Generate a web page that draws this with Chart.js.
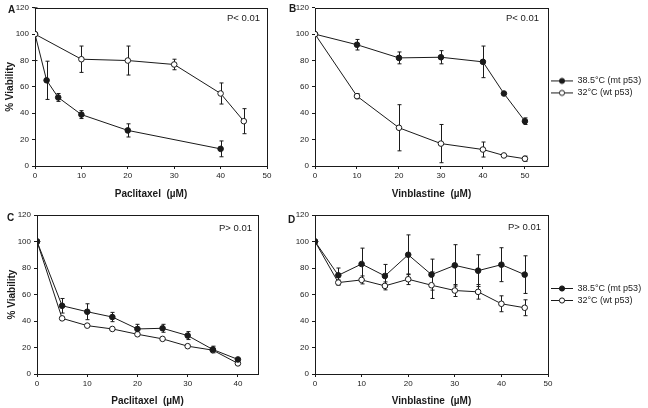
<!DOCTYPE html>
<html><head><meta charset="utf-8">
<script src="https://cdn.jsdelivr.net/npm/chart.js@4/dist/chart.umd.min.js"></script>
<style>
html,body{margin:0;padding:0;background:#fff;}
#wrap{position:relative;width:648px;height:408px;overflow:hidden;background:#fff;}
canvas{position:absolute;display:block;}
</style></head><body>
<div id="wrap">
<canvas id="cA" width="275" height="204" style="left:0;top:0"></canvas>
<canvas id="cB" width="368" height="204" style="left:280px;top:0"></canvas>
<canvas id="cC" width="275" height="204" style="left:0;top:204px"></canvas>
<canvas id="cD" width="368" height="204" style="left:280px;top:204px"></canvas>
</div>
<script>
// ---------- data ----------
const seriesNames = ['38.5°C (mt p53)', '32°C (wt p53)'];
const yTicks = [0, 20, 40, 60, 80, 100, 120];
const xTicks = [0, 10, 20, 30, 40, 50];

// Panel A: Paclitaxel
const aMtX = [0, 2.5, 5, 10, 20, 40];
const aMtY = [100, 65, 52, 39, 27, 13];
const aMtErr = [0, 14.5, 3, 3, 5, 6];
const aWtX = [0, 10, 20, 30, 40, 45];
const aWtY = [100, 81, 80, 77, 55, 34];
const aWtErr = [20, 10, 11, 4, 8, 9.5];

// Panel B: Vinblastine
const bMtX = [0, 10, 20, 30, 40, 45, 50];
const bMtY = [100, 92, 82, 82.5, 79, 55, 34];
const bMtErr = [0, 4, 4.5, 5, 12, 0, 2.5];
const bWtX = [0, 10, 20, 30, 40, 45, 50];
const bWtY = [100, 53, 29, 17, 12.5, 8, 5.5];
const bWtErr = [0, 2, 17.5, 14.5, 5.7, 0, 2];

// Panel C: Paclitaxel
const cX = [0, 5, 10, 15, 20, 25, 30, 35, 40];
const cMtY = [100, 51.5, 47, 43, 34, 34.5, 29, 18.5, 11];
const cMtErr = [0, 5.5, 6, 3.5, 3.5, 3, 3, 2.5, 0];
const cWtY = [100, 42, 36.5, 34, 30, 26.5, 21, 18, 8];
const cWtErr = [0, 0, 0, 0, 0, 0, 0, 0, 0];

// Panel D: Vinblastine
const dX = [0, 5, 10, 15, 20, 25, 30, 35, 40, 45];
const dMtY = [100, 74.5, 83, 74, 90, 75, 82, 78, 82.5, 75];
const dMtErr = [0, 5.5, 12, 8.7, 15, 11.7, 15.6, 12, 12.8, 14.2];
const dWtY = [100, 69, 71, 66.5, 71.5, 67, 63, 62, 53, 50];
const dWtErr = [0, 2, 3, 3, 4, 10, 4.5, 5.5, 6, 6];

// ---------- rendering ----------
const FONT = '"Liberation Sans", Arial, sans-serif';
const INK = '#1a1a1a';
Chart.defaults.font.family = FONT;
Chart.defaults.color = INK;

function pts(xs, ys) { return xs.map((x, i) => ({x: x, y: ys[i]})); }

function legendIcon(filled) {
  const c = document.createElement('canvas');
  c.width = 22; c.height = 9;
  const g = c.getContext('2d');
  g.strokeStyle = INK; g.lineWidth = 1;
  g.beginPath(); g.moveTo(0, 4.5); g.lineTo(22, 4.5); g.stroke();
  g.beginPath(); g.arc(11, 4.5, 2.6, 0, Math.PI * 2);
  g.fillStyle = filled ? INK : '#fff'; g.fill(); g.stroke();
  return c;
}
const iconMt = legendIcon(true), iconWt = legendIcon(false);

const errorBars = {
  id: 'errorBars',
  beforeDatasetsDraw(chart) {
    const ctx = chart.ctx, xs = chart.scales.x, ys = chart.scales.y;
    ctx.save();
    ctx.strokeStyle = INK; ctx.lineWidth = 1;
    chart.data.datasets.forEach(ds => {
      if (!ds.err) return;
      ds.data.forEach((p, i) => {
        const e = ds.err[i];
        if (!e) return;
        const x = Math.round(xs.getPixelForValue(p.x)) + 0.5;
        const y1 = ys.getPixelForValue(p.y + e), y2 = ys.getPixelForValue(p.y - e);
        ctx.beginPath();
        ctx.moveTo(x, y1); ctx.lineTo(x, y2);
        ctx.moveTo(x - 2, y1); ctx.lineTo(x + 2, y1);
        ctx.moveTo(x - 2, y2); ctx.lineTo(x + 2, y2);
        ctx.stroke();
      });
    });
    ctx.restore();
  }
};

const frame = {
  id: 'frame',
  beforeDatasetsDraw(chart, args, o) {
    const a = chart.chartArea, ctx = chart.ctx;
    ctx.save();
    ctx.strokeStyle = INK; ctx.lineWidth = 1;
    ctx.strokeRect(Math.round(a.left) + 0.5, Math.round(a.top) + 0.5, Math.round(a.right - a.left), Math.round(a.bottom - a.top));
    ctx.restore();
  },
  afterDraw(chart, args, o) {
    const a = chart.chartArea, ctx = chart.ctx;
    ctx.save();
    ctx.fillStyle = INK;
    ctx.font = 'bold 10px ' + FONT;
    ctx.textBaseline = 'middle'; ctx.textAlign = 'left';
    ctx.fillText(o.letter, o.lx, o.ly);
    ctx.font = '9.5px ' + FONT;
    ctx.textAlign = 'right';
    ctx.fillText(o.ptext, a.right - o.px, a.top + o.py);
    ctx.restore();
  }
};

function makePanel(id, cfg) {
  const datasets = [
    {label: seriesNames[0], data: pts(cfg.mtX, cfg.mtY), err: cfg.mtErr, order: cfg.mtOrder,
     borderColor: INK, borderWidth: 1, pointRadius: 2.8, pointBackgroundColor: INK, pointBorderColor: INK, pointBorderWidth: 1, tension: 0},
    {label: seriesNames[1], data: pts(cfg.wtX, cfg.wtY), err: cfg.wtErr, order: cfg.wtOrder,
     borderColor: INK, borderWidth: 1, pointRadius: 2.8, pointBackgroundColor: '#fff', pointBorderColor: INK, pointBorderWidth: 1, tension: 0}
  ];
  return new Chart(document.getElementById(id), {
    type: 'line',
    data: {datasets},
    plugins: [errorBars, frame],
    options: {
      responsive: false, animation: false, devicePixelRatio: 1,
      layout: {padding: cfg.pad},
      plugins: {
        tooltip: {enabled: false},
        frame: cfg.frame,
        legend: cfg.legend ? {
          display: true, position: 'right', fullSize: false, maxWidth: 100,
          labels: {
            usePointStyle: true, pointStyleWidth: 22, padding: 3, color: INK,
            font: {size: 9, family: FONT},
            generateLabels: () => [
              {text: seriesNames[0], pointStyle: iconMt, datasetIndex: 0, fontColor: INK, lineWidth: 0, strokeStyle: 'rgba(0,0,0,0)', fillStyle: 'rgba(0,0,0,0)'},
              {text: seriesNames[1], pointStyle: iconWt, datasetIndex: 1, fontColor: INK, lineWidth: 0, strokeStyle: 'rgba(0,0,0,0)', fillStyle: 'rgba(0,0,0,0)'}
            ]
          }
        } : {display: false}
      },
      scales: {
        x: {
          type: 'linear', min: 0, max: cfg.xMax,
          afterBuildTicks: s => { s.ticks = xTicks.filter(v => v <= cfg.xMax).map(v => ({value: v})); },
          afterFit: s => { s.height = cfg.xH; },
          ticks: {font: {size: 8}, color: INK, padding: 2, maxRotation: 0, autoSkip: false},
          grid: {drawOnChartArea: false, tickLength: 3, color: INK},
          border: {display: false},
          title: {display: true, text: cfg.xTitle, color: INK, font: {size: 10, weight: 'bold'}, padding: {top: 0, bottom: cfg.tpad}}
        },
        y: {
          min: 0, max: 120,
          afterBuildTicks: s => { s.ticks = yTicks.map(v => ({value: v})); },
          afterFit: s => { s.width = 35; },
          ticks: {font: {size: 8}, color: INK, padding: 3},
          grid: {drawOnChartArea: false, tickLength: 3, color: INK},
          border: {display: false},
          title: {display: cfg.yTitle, text: '% Viability', color: INK, font: {size: 10, weight: 'bold'}, padding: {top: 4, bottom: 0}}
        }
      }
    }
  });
}

makePanel('cA', {mtX: aMtX, mtY: aMtY, mtErr: aMtErr, wtX: aWtX, wtY: aWtY, wtErr: aWtErr,
  mtOrder: 1, wtOrder: 0, xMax: 50, xH: 38, tpad: 4, xTitle: 'Paclitaxel  (µM)', yTitle: true,
  pad: {top: 7, right: 8, left: 0, bottom: 0}, legend: false,
  frame: {letter: 'A', lx: 8, ly: 10, ptext: 'P< 0.01', px: 7, py: 11}});
makePanel('cB', {mtX: bMtX, mtY: bMtY, mtErr: bMtErr, wtX: bWtX, wtY: bWtY, wtErr: bWtErr,
  mtOrder: 1, wtOrder: 0, xMax: 55.5, xH: 38, tpad: 4, xTitle: 'Vinblastine  (µM)', yTitle: false,
  pad: {top: 7, right: 0, left: 0, bottom: 0}, legend: true,
  frame: {letter: 'B', lx: 9, ly: 9, ptext: 'P< 0.01', px: 9, py: 11}});
makePanel('cC', {mtX: cX, mtY: cMtY, mtErr: cMtErr, wtX: cX, wtY: cWtY, wtErr: cWtErr,
  mtOrder: 0, wtOrder: 1, xMax: 44, xH: 34, tpad: 1, xTitle: 'Paclitaxel  (µM)', yTitle: true,
  pad: {top: 11, right: 17, left: 2, bottom: 0}, legend: false,
  frame: {letter: 'C', lx: 7, ly: 14, ptext: 'P> 0.01', px: 6, py: 13}});
makePanel('cD', {mtX: dX, mtY: dMtY, mtErr: dMtErr, wtX: dX, wtY: dWtY, wtErr: dWtErr,
  mtOrder: 0, wtOrder: 1, xMax: 50, xH: 34, tpad: 1, xTitle: 'Vinblastine  (µM)', yTitle: false,
  pad: {top: 11, right: 0, left: 0, bottom: 0}, legend: true,
  frame: {letter: 'D', lx: 8, ly: 16, ptext: 'P> 0.01', px: 7, py: 12}});
</script>
</body></html>
